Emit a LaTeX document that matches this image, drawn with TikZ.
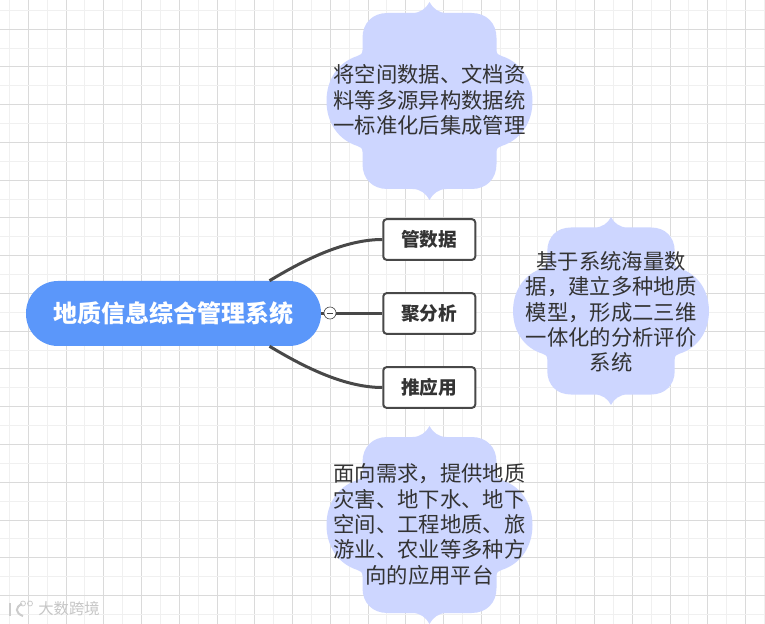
\documentclass[tikz,border=0pt]{standalone}
\usepackage{fontspec}
\setmainfont{Noto Sans CJK SC}
\usepackage{xcolor}
\definecolor{RootBlue}{RGB}{91,151,250}
\definecolor{PlaqueBlue}{RGB}{205,214,255}
\definecolor{LineGray}{RGB}{72,72,72}
\definecolor{InkGray}{RGB}{51,51,51}
\definecolor{GridMajor}{RGB}{218,218,218}
\definecolor{GridMinor}{RGB}{240,240,240}
\usetikzlibrary{positioning}

\begin{document}
\begin{tikzpicture}[
    x=0.75pt, y=-0.75pt,
    rootbox/.style={rectangle, fill=RootBlue, rounded corners=24pt, minimum width=221.25pt, minimum height=48.75pt,
              text=white, font=\fontsize{18}{22}\selectfont\bfseries},
    kidbox/.style={rectangle, draw=LineGray, line width=1.5pt, fill=white, rounded corners=2.5pt,
              minimum width=69pt, minimum height=30.5pt, text=InkGray, font=\fontsize{14}{16}\selectfont\bfseries},
    note/.style={align=center, text=InkGray, inner sep=0pt, font=\fontsize{16}{19}\selectfont},
    link/.style={draw=LineGray, line width=2.25pt},
    fold/.style={circle, draw=LineGray, line width=0.5pt, fill=white, minimum size=9pt, inner sep=0pt, text=LineGray},
    plaque/.pic={
        \fill[PlaqueBlue] (0,-99) .. controls (3,-93) and (9,-88) .. (17,-88) -- (42,-88)
            .. controls (57,-88) and (67,-78) .. (67,-63) -- (67,-51)
            .. controls (67,-47) and (69,-46) .. (72,-45)
            .. controls (91,-39) and (103,-22) .. (103,0)
            .. controls (103,22) and (91,39) .. (72,45)
            .. controls (69,46) and (67,47) .. (67,51) -- (67,63)
            .. controls (67,78) and (57,88) .. (42,88) -- (17,88)
            .. controls (9,88) and (3,93) .. (0,99)
            .. controls (-3,93) and (-9,88) .. (-17,88) -- (-42,88)
            .. controls (-57,88) and (-67,78) .. (-67,63) -- (-67,51)
            .. controls (-67,47) and (-69,46) .. (-72,45)
            .. controls (-91,39) and (-103,22) .. (-103,0)
            .. controls (-103,-22) and (-91,-39) .. (-72,-45)
            .. controls (-69,-46) and (-67,-47) .. (-67,-51) -- (-67,-63)
            .. controls (-67,-78) and (-57,-88) .. (-42,-88) -- (-17,-88)
            .. controls (-9,-88) and (-3,-93) .. (0,-99) -- cycle;
    }
]
    \useasboundingbox (0,0) rectangle (765,624);
    \fill[white] (0,0) rectangle (765,624);

    % grid
    \foreach \k in {0,...,20} {
        \draw[GridMinor, line width=0.75pt] ({9.45+37.75*\k},0) -- ({9.45+37.75*\k},624);
        \draw[GridMajor, line width=0.75pt] ({28.3+37.75*\k},0) -- ({28.3+37.75*\k},624);
    }
    \foreach \k in {0,...,16} {
        \draw[GridMinor, line width=0.75pt] (0,{10.4+37.75*\k}) -- (765,{10.4+37.75*\k});
        \draw[GridMajor, line width=0.75pt] (0,{29.25+37.75*\k}) -- (765,{29.25+37.75*\k});
    }

    % plaques
    \pic at (429.5,101) {plaque};
    \pic[xscale=0.951,yscale=0.949] at (611,311) {plaque};
    \pic at (429.5,525) {plaque};
    \node[note] (notedata) at (429.5,100) {将空间数据、文档资\\料等多源异构数据统\\一标准化后集成管理};
    \node[note] (notemodel) at (611,312) {基于系统海量数\\据，建立多种地质\\模型，形成二三维\\一体化的分析评价\\系统};
    \node[note] (noteapp) at (429.5,524.5) {面向需求，提供地质\\灾害、地下水、地下\\空间、工程地质、旅\\游业、农业等多种方\\向的应用平台};

    % mind map
    \node[rootbox] (root) at (173.5,313.5) {地质信息综合管理系统};
    \node[kidbox, right=45.75pt of root] (analyse) {聚分析};
    \node[kidbox, above=23.5pt of analyse] (manage) {管数据};
    \node[kidbox, below=23.5pt of analyse] (apply) {推应用};
    \coordinate (rootup) at ([xshift=72pt]root.north);
    \coordinate (rootdown) at ([xshift=72pt]root.south);
    \draw[link] (rootup) .. controls +(30,-18) and +(-40,0) .. (manage.west);
    \draw[link] (root.east) -- (analyse.west);
    \draw[link] (rootdown) .. controls +(30,18) and +(-40,0) .. (apply.west);
    \node[fold] (toggle) at (330,313) {\rule{4.5pt}{0.5pt}};

    % watermark
    \node[text=gray!45, inner sep=0pt, font=\fontsize{11.5}{14}\selectfont] (mark) at (69,609) {大数跨境};
    \draw[gray!40, line width=1.5pt] (10,603) -- (10,616);
    \draw[gray!40, line width=1.5pt] (22,604) .. controls (15,607) and (15,613) .. (23,616);
    \draw[gray!40, line width=0.6pt] (23,603.5) circle[radius=2.5] (30,603.5) circle[radius=2.5];
\end{tikzpicture}
\end{document}
